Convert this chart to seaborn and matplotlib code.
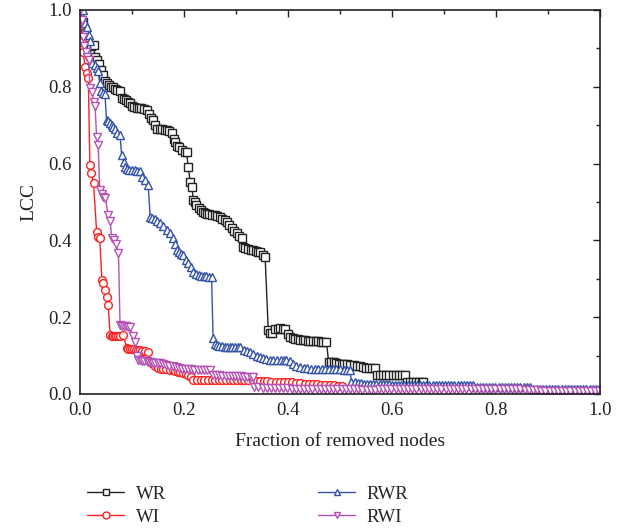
import matplotlib
matplotlib.use("Agg")
import matplotlib.pyplot as plt
import seaborn as sns
import pandas as pd
from matplotlib.ticker import MultipleLocator
from matplotlib.lines import Line2D

# ---------------- data ----------------
wr_x = [0.000, 0.006, 0.010, 0.013, 0.018, 0.022, 0.026, 0.029, 0.033, 0.037, 0.041, 0.044, 0.048, 0.052,
        0.056, 0.060, 0.064, 0.068, 0.072, 0.077, 0.080, 0.084, 0.088, 0.092, 0.096, 0.100, 0.104, 0.109,
        0.113, 0.118, 0.123, 0.128, 0.132, 0.137, 0.141, 0.145, 0.149, 0.153, 0.158, 0.163, 0.167, 0.172,
        0.176, 0.180, 0.183, 0.187, 0.191, 0.196, 0.202, 0.205, 0.208, 0.212, 0.215, 0.218, 0.221, 0.224,
        0.228, 0.232, 0.236, 0.240, 0.244, 0.249, 0.254, 0.259, 0.264, 0.269, 0.274, 0.278, 0.282, 0.287,
        0.292, 0.297, 0.301, 0.306, 0.311, 0.314, 0.318, 0.323, 0.328, 0.333, 0.338, 0.342, 0.346, 0.351,
        0.356, 0.362, 0.365, 0.370, 0.375, 0.380, 0.385, 0.390, 0.395, 0.400, 0.404, 0.409, 0.414, 0.419,
        0.423, 0.428, 0.433, 0.438, 0.443, 0.448, 0.453, 0.458, 0.463, 0.468, 0.474, 0.478, 0.483, 0.488,
        0.493, 0.498, 0.503, 0.508, 0.514, 0.520, 0.526, 0.532, 0.538, 0.544, 0.550, 0.556, 0.562, 0.567,
        0.571, 0.577, 0.583, 0.589, 0.595, 0.601, 0.607, 0.613, 0.619, 0.625, 0.628, 0.634, 0.640, 0.646,
        0.652, 0.658, 0.660]
wr_y = [1.000, 0.970, 0.940, 0.925, 0.910, 0.905, 0.910, 0.878, 0.870, 0.860, 0.845, 0.830, 0.815, 0.810,
        0.805, 0.800, 0.800, 0.795, 0.792, 0.790, 0.770, 0.768, 0.765, 0.760, 0.757, 0.750, 0.748, 0.745,
        0.745, 0.744, 0.742, 0.740, 0.730, 0.720, 0.713, 0.700, 0.690, 0.690, 0.689, 0.688, 0.688, 0.684,
        0.680, 0.665, 0.657, 0.645, 0.643, 0.635, 0.630, 0.630, 0.592, 0.553, 0.540, 0.505, 0.500, 0.492,
        0.485, 0.480, 0.475, 0.472, 0.470, 0.468, 0.466, 0.465, 0.463, 0.461, 0.456, 0.452, 0.448, 0.440,
        0.432, 0.425, 0.419, 0.412, 0.406, 0.383, 0.380, 0.378, 0.376, 0.375, 0.372, 0.371, 0.370, 0.362,
        0.357, 0.167, 0.159, 0.160, 0.168, 0.170, 0.171, 0.170, 0.168, 0.155, 0.149, 0.145, 0.143, 0.142,
        0.141, 0.140, 0.140, 0.139, 0.139, 0.138, 0.137, 0.137, 0.136, 0.136, 0.136, 0.084, 0.084, 0.083,
        0.080, 0.079, 0.078, 0.078, 0.077, 0.076, 0.076, 0.074, 0.072, 0.070, 0.069, 0.068, 0.067, 0.067,
        0.050, 0.050, 0.050, 0.050, 0.050, 0.050, 0.050, 0.050, 0.050, 0.050, 0.032, 0.032, 0.032, 0.032,
        0.032, 0.032, 0.032]

wi_x = [0.000, 0.003, 0.006, 0.010, 0.013, 0.016, 0.019, 0.022, 0.026, 0.032, 0.035, 0.038, 0.042, 0.045,
        0.048, 0.051, 0.054, 0.058, 0.061, 0.064, 0.067, 0.070, 0.074, 0.077, 0.083, 0.090, 0.093, 0.096,
        0.100, 0.104, 0.108, 0.112, 0.115, 0.120, 0.125, 0.131, 0.135, 0.140, 0.145, 0.150, 0.155, 0.160,
        0.165, 0.173, 0.178, 0.183, 0.188, 0.193, 0.198, 0.203, 0.208, 0.213, 0.218, 0.225, 0.232, 0.239,
        0.246, 0.253, 0.260, 0.267, 0.274, 0.281, 0.288, 0.295, 0.302, 0.309, 0.316, 0.323, 0.333, 0.340,
        0.346, 0.353, 0.360, 0.368, 0.376, 0.384, 0.392, 0.400, 0.408, 0.416, 0.424, 0.432, 0.440, 0.448,
        0.456, 0.464, 0.472, 0.480, 0.488, 0.496, 0.504]
wi_y = [1.000, 0.917, 0.890, 0.852, 0.835, 0.822, 0.596, 0.575, 0.549, 0.422, 0.410, 0.405, 0.297, 0.290,
        0.271, 0.253, 0.232, 0.154, 0.152, 0.152, 0.152, 0.152, 0.152, 0.152, 0.154, 0.120, 0.118, 0.117,
        0.116, 0.116, 0.115, 0.115, 0.115, 0.113, 0.112, 0.110, 0.084, 0.078, 0.072, 0.068, 0.066, 0.065,
        0.064, 0.063, 0.062, 0.060, 0.058, 0.056, 0.055, 0.053, 0.050, 0.045, 0.036, 0.036, 0.036, 0.036,
        0.036, 0.036, 0.036, 0.036, 0.036, 0.036, 0.036, 0.036, 0.036, 0.036, 0.036, 0.036, 0.036, 0.034,
        0.033, 0.033, 0.033, 0.032, 0.032, 0.031, 0.031, 0.030, 0.030, 0.029, 0.028, 0.027, 0.026, 0.025,
        0.025, 0.024, 0.024, 0.023, 0.023, 0.022, 0.022]

rwr_head_x = [0.006, 0.010, 0.014, 0.017, 0.020, 0.021, 0.024, 0.028, 0.032, 0.035, 0.038, 0.041, 0.045, 0.048,
              0.051, 0.054, 0.058, 0.061, 0.064, 0.068, 0.072, 0.077, 0.080, 0.084, 0.087, 0.091, 0.095, 0.100,
              0.105, 0.110, 0.115, 0.120, 0.125, 0.131, 0.135, 0.139, 0.144, 0.149, 0.154, 0.160, 0.167, 0.173,
              0.179, 0.183, 0.186, 0.190, 0.195, 0.199, 0.204, 0.208, 0.213, 0.218, 0.223, 0.228, 0.233, 0.238,
              0.243, 0.248, 0.253, 0.256, 0.260, 0.263, 0.268, 0.273, 0.278, 0.283, 0.288, 0.293, 0.298, 0.303,
              0.308, 0.315, 0.321, 0.327, 0.333, 0.340, 0.346, 0.352, 0.358, 0.365, 0.372, 0.379, 0.386, 0.392,
              0.397, 0.403, 0.410, 0.416, 0.423, 0.430, 0.437, 0.444, 0.451, 0.458, 0.465, 0.472, 0.479, 0.486,
              0.493, 0.500, 0.507, 0.513, 0.519]
rwr_head_y = [1.000, 0.966, 0.955, 0.935, 0.920, 0.870, 0.862, 0.858, 0.850, 0.840, 0.810, 0.790, 0.783, 0.780,
              0.713, 0.710, 0.705, 0.700, 0.696, 0.690, 0.680, 0.674, 0.622, 0.605, 0.592, 0.585, 0.583, 0.583,
              0.583, 0.582, 0.580, 0.565, 0.557, 0.544, 0.461, 0.458, 0.455, 0.450, 0.445, 0.437, 0.427, 0.418,
              0.406, 0.390, 0.375, 0.370, 0.365, 0.362, 0.350, 0.341, 0.330, 0.318, 0.312, 0.310, 0.308, 0.307,
              0.306, 0.305, 0.305, 0.146, 0.130, 0.128, 0.125, 0.124, 0.123, 0.122, 0.122, 0.122, 0.122, 0.122,
              0.122, 0.115, 0.112, 0.110, 0.105, 0.100, 0.097, 0.093, 0.090, 0.089, 0.089, 0.089, 0.089, 0.089,
              0.089, 0.085, 0.078, 0.074, 0.070, 0.068, 0.067, 0.066, 0.066, 0.065, 0.065, 0.065, 0.064, 0.064,
              0.064, 0.064, 0.063, 0.063, 0.063]
rwr_tail_x = [0.522, 0.528, 0.534, 0.540, 0.546, 0.552, 0.558, 0.564, 0.570, 0.576, 0.582, 0.588, 0.594,
              0.600, 0.606, 0.612, 0.618, 0.624, 0.630, 0.636, 0.642, 0.648,
              0.654, 0.660, 0.666, 0.672, 0.678, 0.684, 0.690, 0.696, 0.702, 0.708, 0.714, 0.720, 0.726,
              0.732, 0.738, 0.744, 0.750, 0.756,
              0.763, 0.769, 0.775, 0.781, 0.787, 0.793, 0.799, 0.805, 0.811, 0.817, 0.823, 0.829, 0.835,
              0.841, 0.847, 0.853, 0.859, 0.865,
              0.872, 0.878, 0.884, 0.890, 0.896, 0.902, 0.908, 0.914, 0.920, 0.926, 0.932, 0.938, 0.944,
              0.950, 0.956, 0.962, 0.968, 0.974, 0.980, 0.986, 0.992, 0.998, 1.000]
rwr_tail_y = [0.032, 0.030, 0.029, 0.028, 0.027, 0.027, 0.026, 0.026, 0.025, 0.025, 0.025, 0.025, 0.025,
              0.024, 0.024, 0.024, 0.024, 0.024, 0.024, 0.024, 0.024, 0.024,
              0.023, 0.023, 0.023, 0.023, 0.023, 0.023, 0.023, 0.023, 0.023, 0.023, 0.023, 0.023, 0.023,
              0.023, 0.023, 0.023, 0.023, 0.023,
              0.019, 0.019, 0.019, 0.019, 0.019, 0.019, 0.019, 0.019, 0.019, 0.019, 0.019, 0.019, 0.019,
              0.019, 0.019, 0.019, 0.019, 0.019,
              0.013, 0.012, 0.012, 0.012, 0.012, 0.012, 0.012, 0.012, 0.012, 0.012, 0.012, 0.012, 0.012,
              0.012, 0.012, 0.012, 0.012, 0.012, 0.012, 0.012, 0.012, 0.012, 0.012]

rwi_head_x = [0.000, 0.003, 0.006, 0.008, 0.011, 0.014, 0.017, 0.019, 0.023, 0.026, 0.029, 0.032, 0.035, 0.038,
              0.042, 0.045, 0.049, 0.054, 0.058, 0.061, 0.065, 0.069, 0.074, 0.077, 0.081, 0.085, 0.089, 0.093,
              0.096, 0.101, 0.106, 0.110, 0.112, 0.116, 0.120, 0.124, 0.128, 0.132, 0.136, 0.140, 0.145, 0.150,
              0.154, 0.160, 0.166, 0.172, 0.178, 0.184, 0.190, 0.196, 0.202, 0.208, 0.214, 0.220, 0.226, 0.232,
              0.238, 0.244, 0.250, 0.256, 0.262, 0.268, 0.274, 0.280, 0.286, 0.292, 0.298, 0.304, 0.310, 0.316,
              0.322, 0.328, 0.333]
rwi_head_y = [1.000, 0.975, 0.930, 0.905, 0.890, 0.878, 0.870, 0.796, 0.787, 0.761, 0.750, 0.670, 0.648, 0.531,
              0.520, 0.514, 0.510, 0.466, 0.450, 0.405, 0.400, 0.390, 0.366, 0.180, 0.178, 0.177, 0.176, 0.175,
              0.175, 0.150, 0.136, 0.100, 0.089, 0.088, 0.087, 0.086, 0.085, 0.084, 0.083, 0.082, 0.081, 0.080,
              0.080, 0.078, 0.076, 0.074, 0.072, 0.070, 0.068, 0.066, 0.065, 0.064, 0.064, 0.063, 0.063, 0.063,
              0.063, 0.062, 0.062, 0.050, 0.050, 0.049, 0.048, 0.048, 0.047, 0.047, 0.046, 0.046, 0.046, 0.045,
              0.045, 0.045, 0.045]
rwi_tail_x = [0.335, 0.343, 0.351, 0.359, 0.367, 0.375, 0.383, 0.391, 0.399, 0.407, 0.415, 0.423, 0.431, 0.439,
              0.447, 0.455, 0.463, 0.471, 0.479, 0.487, 0.495, 0.503, 0.511, 0.519, 0.527, 0.535, 0.543, 0.551,
              0.559, 0.567,
              0.575, 0.583, 0.591, 0.599, 0.607, 0.615, 0.623, 0.631, 0.639, 0.647, 0.655, 0.663, 0.671, 0.679,
              0.687, 0.695, 0.703, 0.711, 0.719, 0.727, 0.735, 0.743, 0.751, 0.759, 0.767, 0.775, 0.783, 0.791,
              0.799, 0.807, 0.815, 0.823, 0.831, 0.839, 0.847,
              0.855, 0.863, 0.871, 0.879, 0.887, 0.895, 0.903, 0.911, 0.919, 0.927, 0.935, 0.943, 0.951, 0.959,
              0.967, 0.975, 0.983, 0.991, 0.999]
rwi_tail_y = [0.018, 0.017, 0.016, 0.016, 0.016, 0.015, 0.015, 0.015, 0.015, 0.014, 0.014, 0.014, 0.014, 0.014,
              0.013, 0.013, 0.013, 0.013, 0.013, 0.013, 0.012, 0.012, 0.012, 0.012, 0.012, 0.012, 0.011, 0.011,
              0.011, 0.011,
              0.012, 0.012, 0.012, 0.012, 0.012, 0.012, 0.012, 0.012, 0.012, 0.012, 0.012, 0.012, 0.012, 0.012,
              0.012, 0.012, 0.012, 0.012, 0.012, 0.012, 0.012, 0.012, 0.012, 0.012, 0.012, 0.012, 0.012, 0.012,
              0.012, 0.012, 0.012, 0.012, 0.012, 0.012, 0.012,
              0.010, 0.010, 0.010, 0.010, 0.009, 0.009, 0.009, 0.009, 0.009, 0.009, 0.009, 0.008, 0.008, 0.008,
              0.008, 0.008, 0.008, 0.008, 0.008]

rwr_x = rwr_head_x + rwr_tail_x
rwr_y = rwr_head_y + rwr_tail_y
rwi_x = rwi_head_x + rwi_tail_x
rwi_y = rwi_head_y + rwi_tail_y

series_names = ["WR", "WI", "RWR", "RWI"]
series_x = [wr_x, wi_x, rwr_x, rwi_x]
series_y = [wr_y, wi_y, rwr_y, rwi_y]

x_ticks = [0.0, 0.2, 0.4, 0.6, 0.8, 1.0]
y_ticks = [0.0, 0.2, 0.4, 0.6, 0.8, 1.0]

# ---------------- style ----------------
sns.set_theme(style="white")
plt.rcParams["font.family"] = ["Liberation Serif", "DejaVu Serif"]

colors = {"WR": "#222222", "WI": "#ff2020", "RWR": "#3452a8", "RWI": "#b452b4"}
markers = {"WR": "s", "WI": "o", "RWR": "^", "RWI": "v"}

frames = []
for name, xs, ys in zip(series_names, series_x, series_y):
    frames.append(pd.DataFrame({"x": xs, "y": ys, "method": name}))
df = pd.concat(frames, ignore_index=True)

fig = plt.figure(figsize=(6.31, 5.31), dpi=100)
ax = fig.add_axes([80 / 631, 1 - 394 / 531, 520 / 631, 384 / 531])

for name in series_names:
    sub = df[df["method"] == name]
    sns.lineplot(data=sub, x="x", y="y", ax=ax, color=colors[name], lw=1.0,
                 marker=markers[name], markersize=5.6, markerfacecolor="white",
                 markeredgecolor=colors[name], markeredgewidth=1.0,
                 sort=False, estimator=None, legend=False)

ax.set_xlim(0, 1)
ax.set_ylim(0, 1)
ax.set_xticks(x_ticks)
ax.set_yticks(y_ticks)
ax.set_xticklabels([f"{t:.1f}" for t in x_ticks])
ax.set_yticklabels([f"{t:.1f}" for t in y_ticks])
ax.xaxis.set_minor_locator(MultipleLocator(0.1))
ax.yaxis.set_minor_locator(MultipleLocator(0.1))
ax.tick_params(which="both", direction="in", top=True, right=True, labelsize=13.5,
               colors="#222222", pad=6)
ax.tick_params(which="major", length=5, width=1.0)
ax.tick_params(which="minor", length=3, width=1.0)
for sp in ax.spines.values():
    sp.set_visible(True)
    sp.set_color("#222222")
    sp.set_linewidth(1.2)

ax.set_xlabel("Fraction of removed nodes", fontsize=14, color="#222222", labelpad=10)
ax.set_ylabel("LCC", fontsize=14, color="#222222", labelpad=8)

handles = []
for name in series_names:
    handles.append(Line2D([], [], color=colors[name], lw=1.0, marker=markers[name],
                          markersize=5, markerfacecolor="white",
                          markeredgecolor=colors[name], markeredgewidth=1.0))
fig.legend(handles, series_names, ncol=2, loc="upper left",
           bbox_to_anchor=(70 / 631, 1 - 469 / 531), frameon=False, fontsize=13.5,
           handlelength=2.0, handletextpad=0.6, columnspacing=8.1, labelspacing=0.3)

fig.savefig("out.png", dpi=100)
